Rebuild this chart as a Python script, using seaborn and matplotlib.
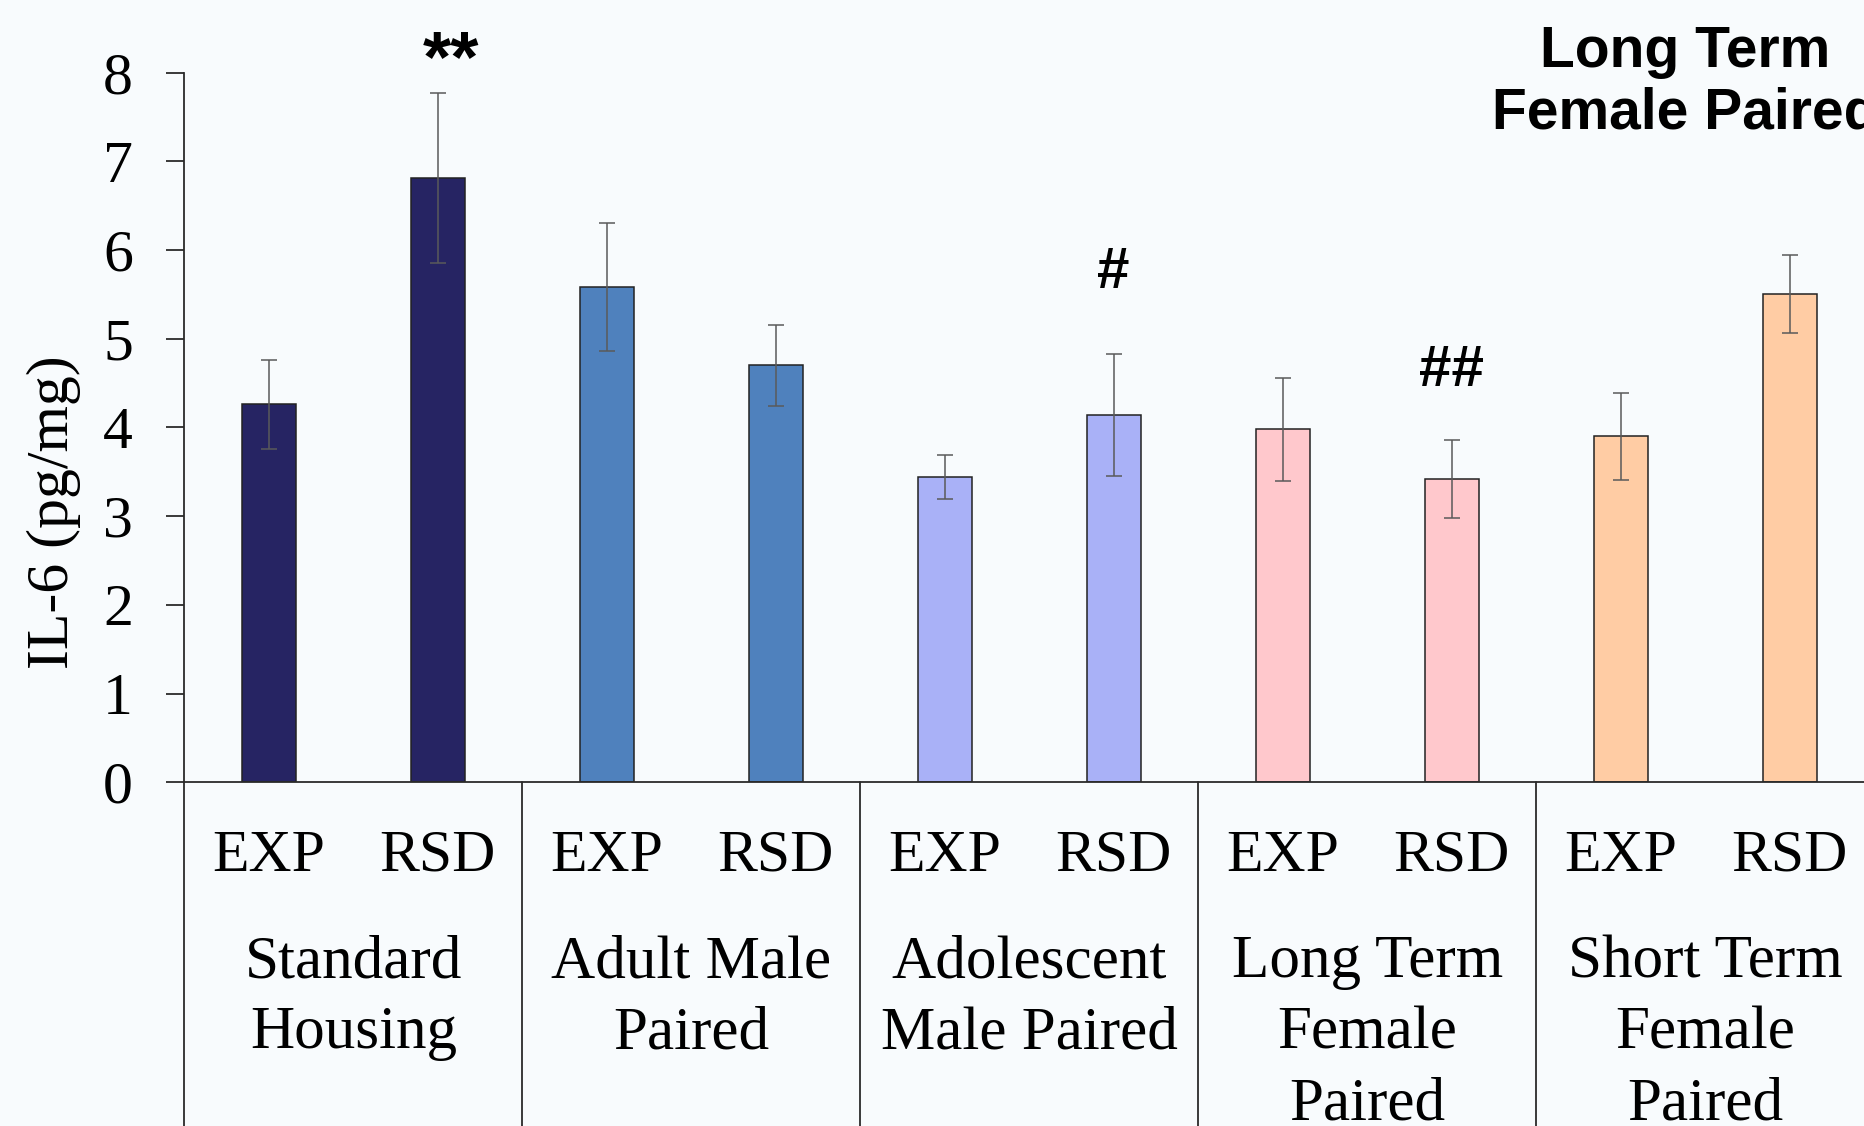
import matplotlib
matplotlib.use("Agg")
import matplotlib.pyplot as plt
import seaborn as sns
import pandas as pd

# values (mean +/- SEM, IL-6 pg/mg)
housing = ["Standard\nHousing", "Adult Male\nPaired", "Adolescent\nMale Paired",
           "Long Term\nFemale\nPaired", "Short Term\nFemale\nPaired"]
conditions = ["EXP", "RSD"]
il6_mean = [4.26, 6.81, 5.58, 4.70, 3.44, 4.14, 3.98, 3.42, 3.90, 5.50]
il6_sem = [0.50, 0.96, 0.72, 0.46, 0.25, 0.69, 0.58, 0.44, 0.49, 0.44]
group_colors = ["#262463", "#4F81BD", "#A9B1F7", "#FFC8CC", "#FFCCA4"]
sig_marks = ["**", "#", "##"]
sig_bar = [1, 5, 7]
sig_y = [8.12, 5.74, 4.64]

bg = "#F8FBFD"
serif = ["Liberation Serif", "DejaVu Serif"]
sans = ["Liberation Sans", "DejaVu Sans"]

rows = []
for gi, g in enumerate(housing):
    for ci, c in enumerate(conditions):
        k = gi * 2 + ci
        rows.append({"bar": f"{gi}-{c}", "cond": c, "housing": g,
                     "il6": il6_mean[k], "sem": il6_sem[k]})
df = pd.DataFrame(rows)

sns.set_theme(style="ticks")
plt.rcParams["font.family"] = serif

fig = plt.figure(figsize=(18.64, 11.26), dpi=100, facecolor=bg)
ax = fig.add_axes([0.0989, 0.3052, 0.9065, 0.6304], facecolor=bg)

sns.barplot(data=df, x="bar", y="il6", hue="housing", hue_order=housing,
            palette=dict(zip(housing, group_colors)), dodge=False, width=0.32,
            saturation=1, edgecolor="#222222", linewidth=1.1, errorbar=None,
            legend=False, ax=ax)
ax.errorbar(range(len(df)), df["il6"], yerr=df["sem"], fmt="none",
            ecolor="#5a5a5a", elinewidth=1.1, capsize=6, capthick=1.1)

ax.set_xlim(-0.5, 9.5)
ax.set_ylim(0, 8)
ax.set_yticks(range(9))
ax.set_xticks(range(len(df)))
ax.set_xticklabels(df["cond"])
ax.set_xlabel("")
ax.set_ylabel("IL-6 (pg/mg)", fontsize=43, color="black")
ax.yaxis.set_label_coords(-0.061, 0.38)

for side in ["top", "right"]:
    ax.spines[side].set_visible(False)
for side in ["left", "bottom"]:
    ax.spines[side].set_color("#2a2a2a")
    ax.spines[side].set_linewidth(1.3)

ax.tick_params(axis="y", direction="out", length=13, width=1.3, color="#2a2a2a",
               pad=24, labelsize=43, labelcolor="black")
ax.tick_params(axis="x", length=0, pad=34, labelsize=43, labelcolor="black")

# group dividers below the axis and group names
for gi, g in enumerate(housing):
    ax.axvline(gi * 2 - 0.5, ymin=-0.6, ymax=0, clip_on=False,
               color="#2a2a2a", lw=1.3)
    ax.text(gi * 2 + 0.5, -0.215, g, transform=ax.get_xaxis_transform(),
            ha="center", va="top", fontsize=44, linespacing=1.36, color="black")

# significance marks
for mark, b, yv in zip(sig_marks, sig_bar, sig_y):
    star = mark.startswith("*")
    ax.text(b + (0.08 if star else 0), yv, mark, ha="center", va="center",
            fontsize=52 if star else 42, fontweight="bold", family=sans,
            color="black", clip_on=False)

fig.text(0.904, 0.978, "Long Term\nFemale Paired", ha="center", va="top",
         fontsize=41, fontweight="bold", family=sans, linespacing=1.18,
         color="black")

fig.savefig("out.png", dpi=100, facecolor=bg)
plt.close(fig)
